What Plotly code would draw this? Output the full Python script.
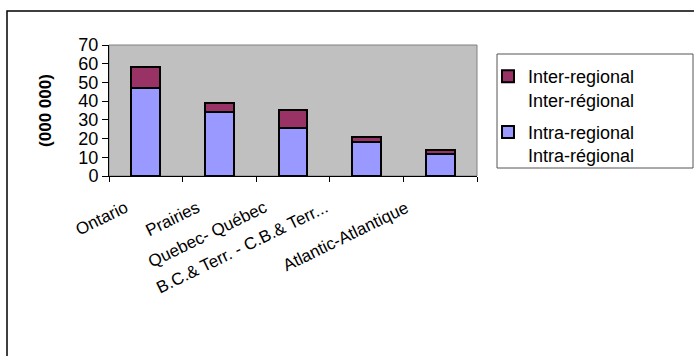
import plotly.graph_objects as go

# Trips by region, in millions (000 000)
regions = ["Ontario", "Prairies", "Quebec- Québec", "B.C.& Terr. - C.B.& Terr...", "Atlantic-Atlantique"]
intra_regional = [47, 34, 25.5, 18, 11.5]
inter_regional = [11, 5, 10, 3, 2.5]

series_names = ["Intra-regional<br>Intra-régional", "Inter-regional<br>Inter-régional"]
y_ticks = [0, 10, 20, 30, 40, 50, 60, 70]

# horizontal nudge of each slanted category label (px)
label_shift = [-12, -13, -20, -33, -26]

FONT = "Liberation Sans, Arial, sans-serif"
W, H = 694, 356
L, R, T, B = 109, 217, 45, 180
pw, ph = W - L - R, H - T - B


def px_x(x):
    return (x - L) / pw


def px_y(y):
    return (H - B - y) / ph


fig = go.Figure()
fig.add_trace(go.Bar(
    x=regions, y=intra_regional, name=series_names[0],
    legendgroup="intra", legendrank=2,
    marker=dict(color="#9999FF", line=dict(color="black", width=2)),
))
fig.add_trace(go.Bar(
    x=regions, y=inter_regional, name=series_names[1],
    legendgroup="inter", legendrank=1,
    marker=dict(color="#993366", line=dict(color="black", width=2)),
))

shapes = [
    # plot area frame (grey top/right edges)
    dict(type="rect", xref="paper", yref="paper", x0=0, x1=1, y0=0, y1=1,
         line=dict(color="#808080", width=1), layer="below"),
    # outer chart border
    dict(type="rect", xref="paper", yref="paper",
         x0=px_x(7), x1=px_x(710), y0=px_y(370), y1=px_y(11),
         line=dict(color="black", width=1.5), layer="above"),
    # legend frame
    dict(type="rect", xref="paper", yref="paper",
         x0=px_x(497), x1=px_x(693), y0=px_y(168), y1=px_y(54),
         line=dict(color="#555555", width=1), layer="above"),
]

annotations = []
for name, dx in zip(regions, label_shift):
    annotations.append(dict(
        x=name, xref="x", y=0, yref="paper", yshift=-19, xshift=dx,
        text=name, showarrow=False, textangle=-26,
        xanchor="right", yanchor="top",
        font=dict(family=FONT, size=17, color="black"),
    ))

fig.update_layout(
    width=W, height=H,
    margin=dict(l=L, r=R, t=T, b=B, autoexpand=False),
    paper_bgcolor="white",
    plot_bgcolor="#C0C0C0",
    barmode="stack",
    bargap=0.61,
    font=dict(family=FONT, size=18, color="black"),
    showlegend=True,
    legend=dict(
        x=px_x(488), y=px_y(58), xanchor="left", yanchor="top",
        traceorder="grouped", tracegroupgap=6, valign="top",
        bgcolor="rgba(0,0,0,0)", borderwidth=0,
        font=dict(family=FONT, size=18, color="black"),
        itemwidth=30,
    ),
    shapes=shapes,
    annotations=annotations,
    xaxis=dict(
        type="category", range=[-0.5, len(regions) - 0.5],
        showticklabels=False,
        ticks="outside", tickson="boundaries", ticklen=5, tickcolor="black",
        showline=True, linecolor="black", linewidth=1,
        showgrid=False, zeroline=False,
    ),
    yaxis=dict(
        range=[0, 70], tickvals=y_ticks, ticktext=[str(v) for v in y_ticks],
        ticks="outside", ticklen=6, tickcolor="black",
        showline=True, linecolor="black", linewidth=1,
        showgrid=False, zeroline=False,
        tickfont=dict(family=FONT, size=18, color="black"),
        title=dict(text="(000 000)", standoff=22,
                   font=dict(family=FONT, size=17, color="black", weight="bold")),
    ),
)

fig.write_html("out.html")
